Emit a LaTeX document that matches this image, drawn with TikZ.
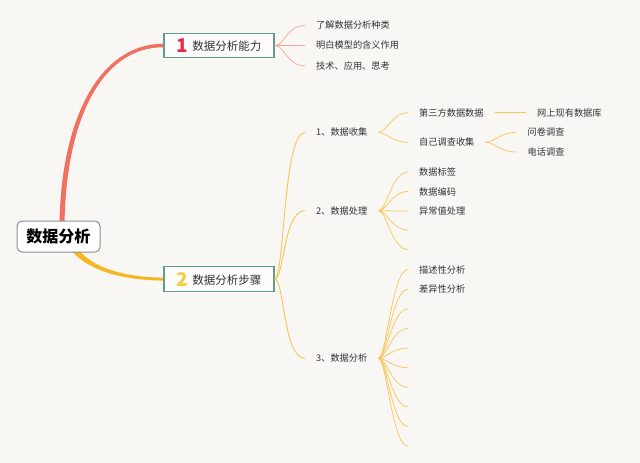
\documentclass[tikz,border=0pt]{standalone}
\usepackage{fontspec}
\setmainfont{Noto Sans CJK SC}
\definecolor{bgc}{HTML}{F9F7F4}
\definecolor{redc}{HTML}{F2705F}
\definecolor{yelc}{HTML}{F6B621}
\definecolor{pinkc}{HTML}{F6A59C}
\definecolor{ythin}{HTML}{F8C454}
\definecolor{tealc}{HTML}{5F9E8C}
\definecolor{rootc}{HTML}{8C8C9C}
\definecolor{onec}{HTML}{E0304A}
\definecolor{twoc}{HTML}{F0D040}
\definecolor{textc}{HTML}{333333}
\begin{document}
\begin{tikzpicture}[x=1pt,y=-1pt,
  rootbox/.style={draw=rootc,line width=1pt,fill=white,rounded corners=5pt,
    minimum width=83pt,minimum height=31pt,inner sep=0pt,
    font=\fontsize{16}{16}\selectfont\bfseries,text=black},
  topbox/.style={draw=tealc,line width=1.1pt,fill=white!60!bgc,
    minimum width=110pt,minimum height=24.5pt,inner sep=0pt,
    font=\fontsize{11.5}{12}\selectfont,text=textc},
  leaf/.style={inner xsep=11pt,inner ysep=1.5pt,
    font=\fontsize{9.2}{10}\selectfont,text=textc},
  pbr/.style={draw=pinkc,line width=0.7pt},
  ybr/.style={draw=ythin,line width=0.7pt},
  ybig/.style={draw=ythin,line width=0.9pt}]
\useasboundingbox[fill=bgc] (0,0) rectangle (640,463);

% main tapered branches
\fill[redc] (59.5,226) .. controls (60.5,120) and (99,43.5) .. (164,43.7)
  -- (164,47.3) .. controls (101,46.5) and (65.5,121) .. (64.5,226) -- cycle;
\fill[yelc] (76,246) .. controls (87.5,264.5) and (118,277.6) .. (165,277.6)
  -- (165,280.6) .. controls (116,280.4) and (84.5,267.5) .. (70,249) -- cycle;

% main nodes
\node[rootbox] (root) at (58.5,236.5) {数据分析};
\node[topbox] (n1) at (219,45.5) {\raisebox{-1.5pt}{\textcolor{onec}{\fontsize{19}{19}\selectfont\bfseries 1}}\hspace{4pt}数据分析能力};
\node[topbox] (n2) at (219,279) {\raisebox{-1.5pt}{\textcolor{twoc}{\fontsize{19}{19}\selectfont\bfseries 2}}\hspace{4pt}数据分析步骤};

% branch 1 children
\node[leaf,anchor=west] (l11) at (305,25.5) {了解数据分析种类};
\node[leaf,anchor=west] (l12) at (305,45.5) {明白模型的含义作用};
\node[leaf,anchor=west] (l13) at (305,65.8) {技术、应用、思考};
\foreach \t in {l11,l12,l13}
  \draw[pbr] (n1.east) .. controls +(10,0) and +(-18,0) .. (\t.west);

% branch 2 children
\node[leaf,anchor=west] (c1) at (305,132.5) {1、数据收集};
\node[leaf,anchor=west] (c2) at (305,210.7) {2、数据处理};
\node[leaf,anchor=west] (c3) at (305,358.3) {3、数据分析};
\foreach \t in {c1,c2,c3}
  \draw[ybig] (n2.east) .. controls +(10,0) and +(-22,0) .. (\t.west);

% 1 data collection
\node[leaf,anchor=west] (d11) at (408,112.7) {第三方数据数据};
\node[leaf,anchor=west] (d12) at (408,142.3) {自己调查收集};
\foreach \t in {d11,d12}
  \draw[ybr] (c1.east) .. controls +(8,0) and +(-16,0) .. (\t.west);
\node[leaf,anchor=west] (e1) at (526,112.7) {网上现有数据库};
\draw[ybr] (d11.east) -- (e1.west);
\node[leaf,anchor=west] (e21) at (516.5,132.3) {问卷调查};
\node[leaf,anchor=west] (e22) at (516.5,152) {电话调查};
\foreach \t in {e21,e22}
  \draw[ybr] (d12.east) .. controls +(8,0) and +(-16,0) .. (\t.west);

% 2 data processing
\node[leaf,anchor=west] (d21) at (408,172) {数据标签};
\node[leaf,anchor=west] (d22) at (408,191.5) {数据编码};
\node[leaf,anchor=west] (d23) at (408,211) {异常值处理};
\coordinate (d24) at (408,230);
\coordinate (d25) at (408,249.5);
\foreach \t in {d21,d22,d23}
  \draw[ybr] (c2.east) .. controls +(8,0) and +(-16,0) .. (\t.west);
\foreach \t in {d24,d25}
  \draw[ybr] (c2.east) .. controls +(8,0) and +(-16,0) .. (\t);

% 3 data analysis
\node[leaf,anchor=west] (d31) at (408,269.7) {描述性分析};
\node[leaf,anchor=west] (d32) at (408,289.3) {差异性分析};
\foreach \t in {d31,d32}
  \draw[ybr] (c3.east) .. controls +(8,0) and +(-16,0) .. (\t.west);
\foreach \k in {2,...,9}
  \coordinate (d3x\k) at (408,269.7+19.6*\k);
\foreach \k in {2,...,9}
  \draw[ybr] (c3.east) .. controls +(8,0) and +(-16,0) .. (d3x\k);
\end{tikzpicture}
\end{document}
